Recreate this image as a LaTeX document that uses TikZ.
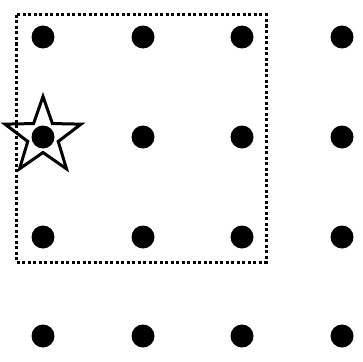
\documentclass[tikz,border=0pt]{standalone}
\usetikzlibrary{shapes.geometric}
\begin{document}
\begin{tikzpicture}[x=1pt,y=-1pt,
  gdot/.style={circle,fill=black,inner sep=0pt,minimum size=23pt},
  frame/.style={line width=3pt,dash pattern=on 3pt off 2.5pt},
  starmark/.style={star,star points=5,star point ratio=2.5,draw=black,line width=3pt,minimum size=80pt,inner sep=0pt}]
\useasboundingbox (0,0) rectangle (363,361);
\foreach \i/\x in {0/43,1/143,2/242,3/342}{
  \foreach \j/\y in {0/37,1/137,2/237,3/336}{
    \node[gdot] (d\i\j) at (\x,\y) {};
  }
}
\draw[frame] (16,15) rectangle (266,262);
\node[starmark] (s) at (43,136.5) {};
\end{tikzpicture}
\end{document}
